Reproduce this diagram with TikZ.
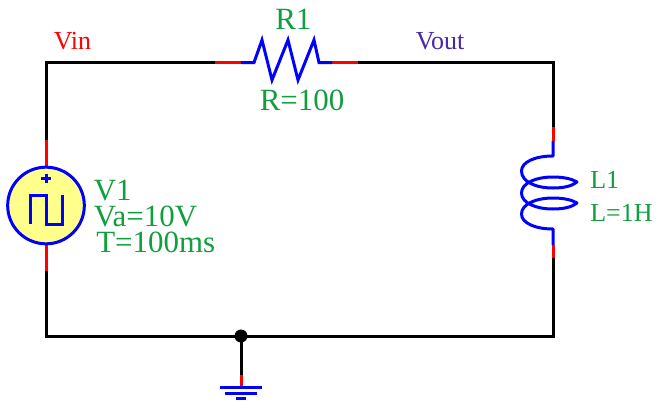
\documentclass[tikz,border=0pt]{standalone}
\usepackage{fontspec}
\setmainfont{Liberation Serif}
\definecolor{wgreen}{RGB}{16,158,62}
\definecolor{wpurple}{RGB}{72,40,170}
\definecolor{wyellow}{RGB}{255,255,140}
\definecolor{wblue}{RGB}{0,0,255}
\definecolor{wred}{RGB}{255,0,0}
\tikzset{
  wire/.style={line width=2.25pt,black},
  lead/.style={line width=2.25pt,wred},
  sym/.style={line width=2.25pt,wblue,line join=miter},
  lab/.style={inner sep=0pt,anchor=base west,text=wgreen},
  big/.style={lab,font=\fontsize{23.2pt}{23.2pt}\selectfont},
  small/.style={lab,font=\fontsize{19.5pt}{19.5pt}\selectfont}
}
\begin{document}
\begin{tikzpicture}[x=0.75pt,y=-0.75pt]
\useasboundingbox (0,0) rectangle (664,414);
% corners and junctions
\coordinate (tl) at (46,62.5);
\coordinate (tr) at (553,62.5);
\coordinate (bl) at (46,336);
\coordinate (br) at (553,336);
\coordinate (vtop) at (46,140);
\coordinate (vleadt) at (46,166);
\coordinate (vleadb) at (46,245);
\coordinate (vbot) at (46,271);
\coordinate (rl) at (215,62.5);
\coordinate (rlb) at (241,62.5);
\coordinate (rrb) at (332,62.5);
\coordinate (rr) at (358,62.5);
\coordinate (lt) at (553,127);
\coordinate (ltb) at (553,141);
\coordinate (lbb) at (553,245);
\coordinate (lb) at (553,258);
\coordinate (gj) at (241,336);
\coordinate (gw) at (241,375);
\coordinate (gb) at (241,387.5);
% wires
\draw[wire,line join=miter] (vtop) -- (tl) -- (rl);
\draw[wire,line join=miter] (rr) -- (tr) -- (lt);
\draw[wire,line join=miter] (vbot) -- (bl) -- (br) -- (lb);
\draw[wire] (gj) -- (gw);
\fill[black] (gj) circle (6.5);
% leads
\draw[lead] (vtop) -- (vleadt);
\draw[lead] (vleadb) -- (vbot);
\draw[lead] (rl) -- (rlb);
\draw[lead] (rrb) -- (rr);
\draw[lead] (lt) -- (ltb);
\draw[lead] (lbb) -- (lb);
\draw[lead] (gw) -- (gb);
% source
\node[circle,draw=wblue,fill=wyellow,line width=2.25pt,minimum size=57.5pt,inner sep=0pt] (v1) at (46,205.5) {};
\draw[sym] (30,224) -- (30,195) -- (46,195) -- (46,224) -- (62,224) -- (62,195);
\draw[sym] (41,178) -- (51,178);
\draw[sym] (46,173.5) -- (46,183);
% resistor
\draw[sym] (rlb) -- (254,62.5) -- (262,40) -- (272,80) -- (288,40) -- (298,80) -- (314,40) -- (319,62.5) -- (rrb);
% inductor
\draw[sym,line join=round] (ltb) -- (553,156)
  .. controls (535,156) and (521.5,162) .. (521.5,171)
  .. controls (521.5,182) and (536,188) .. (553,188)
  .. controls (564,188) and (572,186) .. (577,182)
  .. controls (572,179) and (564,177) .. (553,177)
  .. controls (536,177) and (521.5,183) .. (521.5,193)
  .. controls (521.5,203) and (536,209) .. (553,209)
  .. controls (564,209) and (572,207) .. (577,203)
  .. controls (572,200) and (564,198) .. (553,198)
  .. controls (536,198) and (521.5,204) .. (521.5,214)
  .. controls (521.5,223) and (535,229) .. (553,229)
  -- (lbb);
% ground
\draw[sym] (220,387.5) -- (262,387.5);
\draw[sym] (225,393) -- (257,393);
\draw[sym] (236,398.5) -- (246,398.5);
% labels
\node[small,text=wred] (vin) at (53.5,49) {Vin};
\node[small,text=wpurple] (vout) at (415.5,49) {Vout};
\node[big] (r1) at (275,29) {R1};
\node[big] (rv) at (259.5,110) {R=100};
\node[big] (v1a) at (93.5,200.5) {V1};
\node[big] (v1b) at (93.5,226.5) {Va=10V};
\node[big] (v1c) at (96,252.5) {T=100ms};
\node[small] (l1) at (590,188) {L1};
\node[small] (l1v) at (590,221.5) {L=1H};
\end{tikzpicture}
\end{document}
